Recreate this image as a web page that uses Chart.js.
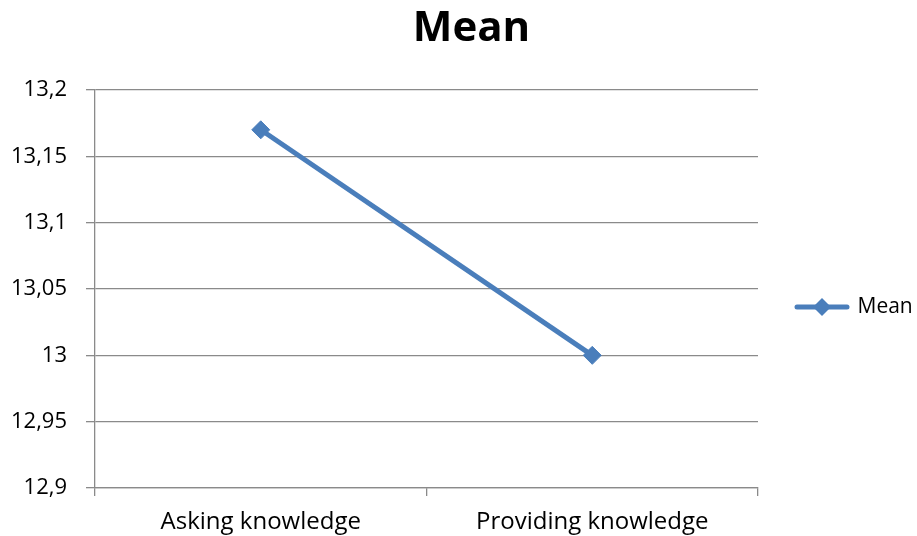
<!DOCTYPE html>
<html><head><meta charset="utf-8">
<script src="https://cdn.jsdelivr.net/npm/chart.js@4/dist/chart.umd.min.js"></script>
<style>html,body{margin:0;padding:0;background:#fff}#wrap{width:917px;height:536px;position:relative}</style>
</head><body><div id="wrap"><canvas id="c"></canvas></div>
<script>
const categories = ['Asking knowledge', 'Providing knowledge'];
const meanValues = [13.17, 13.0];
const seriesName = 'Mean';
const chartTitle = 'Mean';
const yTickValues = [12.9, 12.95, 13, 13.05, 13.1, 13.15, 13.2];

const lineColor = '#4A7EBB';
const gridColor = '#8A8A8A';
const fontFamily = "'Open Sans', sans-serif";

// legend icon: line with diamond marker
const icon = document.createElement('canvas');
icon.width = 56; icon.height = 22;
(function(){
  const g = icon.getContext('2d');
  g.strokeStyle = lineColor; g.lineWidth = 5; g.lineCap = 'round';
  g.beginPath(); g.moveTo(3, 11); g.lineTo(53, 11); g.stroke();
  g.fillStyle = lineColor;
  g.beginPath(); g.moveTo(28, 2); g.lineTo(37, 11); g.lineTo(28, 20); g.lineTo(19, 11); g.closePath(); g.fill();
})();

const layoutPlugin = {
  id: 'layoutTweaks',
  afterInit(chart) {
    const lg = chart.legend;
    if (!lg) return;
    const orig = lg.fit;
    lg.fit = function() { orig.call(this); this.width = 159; };
  },
  afterLayout(chart) {
    const t = chart.titleBlock;
    if (t) { t.left += 26; t.width -= 26; }
  }
};

new Chart(document.getElementById('c'), {
  type: 'line',
  data: {
    labels: categories,
    datasets: [{
      label: seriesName,
      data: meanValues,
      borderColor: lineColor,
      backgroundColor: lineColor,
      borderWidth: 5,
      pointStyle: 'rectRot',
      pointRadius: 9,
      pointBorderWidth: 1,
      pointBackgroundColor: lineColor,
      pointBorderColor: lineColor,
      tension: 0,
      fill: false
    }]
  },
  plugins: [layoutPlugin],
  options: {
    responsive: true,
    maintainAspectRatio: false,
    animation: false,
    layout: { padding: { left: 0, right: 0, top: 0, bottom: 0 } },
    plugins: {
      title: {
        display: true,
        text: chartTitle,
        color: '#000',
        font: { family: fontFamily, size: 42, weight: 'bold' },
        padding: { top: 4, bottom: 35.6 }
      },
      legend: {
        display: true,
        position: 'right',
        align: 'center',
        title: { display: true, text: '', font: { size: 10, lineHeight: 1 }, padding: { top: 68, bottom: 0 } },
        labels: {
          color: '#000',
          font: { family: fontFamily, size: 21 },
          padding: 39,
          usePointStyle: true,
          pointStyleWidth: 50,
          generateLabels(chart) {
            return chart.data.datasets.map((ds, i) => ({
              text: ds.label, pointStyle: icon, datasetIndex: i, fontColor: '#000',
              fillStyle: lineColor, strokeStyle: lineColor, lineWidth: 0, hidden: false
            }));
          }
        }
      },
      tooltip: { enabled: false }
    },
    scales: {
      x: {
        type: 'category',
        offset: true,
        grid: { offset: true, drawOnChartArea: false, drawTicks: true, tickLength: 8, color: gridColor, lineWidth: 1.3 },
        border: { display: true, color: gridColor, width: 1.3 },
        ticks: { color: '#000', font: { family: fontFamily, size: 24 }, padding: 12, maxRotation: 0, autoSkip: false },
        afterFit(s) { s.height = 48; }
      },
      y: {
        min: 12.9, max: 13.2,
        afterBuildTicks(s) { s.ticks = yTickValues.map(v => ({ value: v })); },
        grid: { drawOnChartArea: true, drawTicks: true, tickLength: 9, color: gridColor, lineWidth: 1.3 },
        border: { display: true, color: gridColor, width: 1.3 },
        ticks: {
          color: '#000', font: { family: fontFamily, size: 22 }, padding: 19,
          callback(v) { return String(v).replace('.', ','); }
        },
        afterFit(s) { s.width = 95; }
      }
    }
  }
});
</script>
</body></html>
